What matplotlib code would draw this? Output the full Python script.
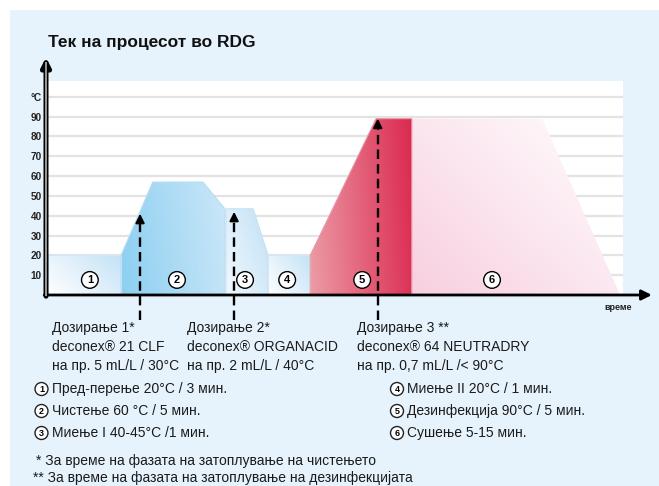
import matplotlib
matplotlib.use("Agg")
import matplotlib.pyplot as plt
import numpy as np
from matplotlib.patches import Polygon, Rectangle
from matplotlib.colors import to_rgb

plt.rcParams['font.family'] = ['Liberation Sans', 'DejaVu Sans']

W, H = 659, 486

# ---- data ----
title = "Тек на процесот во RDG"
ytick_vals = [10, 20, 30, 40, 50, 60, 70, 80, 90, 100]
ytick_labels = ["10", "20", "30", "40", "50", "60", "70", "80", "90", "°C"]
x_label = "време"

p1_t = [0.3, 0.3, 13.0, 13.0];               p1_T = [0, 20, 20, 0]
p2_t = [13.0, 13.0, 18.5, 27.2, 31.0, 31.0]; p2_T = [0, 20, 57, 57, 43.5, 0]
p3_t = [31.2, 31.2, 35.9, 38.5, 38.5];       p3_T = [0, 43.5, 43.5, 20, 0]
p4_t = [38.5, 38.5, 45.8, 45.8];             p4_T = [0, 20, 20, 0]
p5_t = [45.8, 45.8, 57.2, 63.4, 63.4];       p5_T = [0, 20, 89, 89, 0]
p6_t = [63.4, 63.4, 86.0, 99.5];             p6_T = [0, 89, 89, 0]

label_t = [7.6, 22.7, 34.5, 41.8, 54.8, 77.3]
label_T = [7.6, 7.6, 7.6, 7.6, 7.6, 7.6]

dose_t = [16.3, 32.6, 57.5]
dose_T = [41, 42, 89]
dose_texts = [
    "Дозирање 1*\ndeconex® 21 CLF\nна пр. 5 mL/L / 30°C",
    "Дозирање 2*\ndeconex® ORGANACID\nна пр. 2 mL/L / 40°C",
    "Дозирање 3 **\ndeconex® 64 NEUTRADRY\nна пр. 0,7 mL/L /< 90°C",
]
legend_left = ["Пред-перење 20°C / 3 мин.", "Чистење 60 °C / 5 мин.", "Миење I 40-45°C /1 мин."]
legend_right = ["Миење II 20°C / 1 мин.", "Дезинфекција 90°C / 5 мин.", "Сушење 5-15 мин."]
footnotes = ["* За време на фазата на затоплување на чистењето",
             "** За време на фазата на затоплување на дезинфекцијата"]

# ---- figure ----
fig = plt.figure(figsize=(W / 100, H / 100), dpi=100)
fig.patch.set_facecolor('white')

def fx(x): return x / W
def fy(y): return 1 - y / H

fig.patches.append(Rectangle((fx(10), 0), 1 - fx(10), fy(10), transform=fig.transFigure,
                             facecolor='#E7F3FC', edgecolor='none', zorder=-5))

ax = fig.add_axes([fx(46), fy(295), (623 - 46) / W, (295 - 81) / H])
ax.set_zorder(2)
ax.set_facecolor('white')
for s in ax.spines.values():
    s.set_visible(False)

XMAX, YMAX = 100, 108

for v in ytick_vals:
    ax.axhline(v, color='#E3E3E3', lw=1.6, zorder=1)


def grad_fill(ts, Ts, c0, c1, u, v, edge=None):
    xmin, xmax = min(ts), max(ts)
    ymin, ymax = min(Ts), max(Ts)
    n = 200
    gx, gy = np.meshgrid(np.linspace(0, 1, n), np.linspace(0, 1, n))
    g = (u * gx + v * gy) / (abs(u) + abs(v))
    g = g - g.min()
    g = g / g.max()
    a = np.array(to_rgb(c0)); b = np.array(to_rgb(c1))
    img = a[None, None, :] * (1 - g[..., None]) + b[None, None, :] * g[..., None]
    poly = Polygon(np.column_stack([ts, Ts]), closed=True, facecolor='none',
                   edgecolor=edge if edge else 'none', lw=0.8, zorder=3)
    ax.add_patch(poly)
    im = ax.imshow(img, extent=(xmin, xmax, ymin, ymax), origin='lower',
                   aspect='auto', zorder=2, interpolation='bilinear')
    im.set_clip_path(poly)


grad_fill(p1_t, p1_T, '#FFFFFF', '#C3E2F6', 1, 0.6, '#D2E8F6')
grad_fill(p2_t, p2_T, '#8CCFF1', '#CBE7F8', 1, 0.15, '#B9DCF2')
grad_fill(p3_t, p3_T, '#F2F9FE', '#C0E0F5', 1, 0.7, '#C6E2F4')
grad_fill(p4_t, p4_T, '#FFFFFF', '#C3E2F6', 1, 0.6, '#D2E8F6')
grad_fill(p5_t, p5_T, '#EC9CA6', '#DB2950', 1, 0.1, '#E59AA8')
grad_fill(p6_t, p6_T, '#F8CFE0', '#FFFFFF', 1, 0.9, None)

# circled labels in chart
for i, (t, T) in enumerate(zip(label_t, label_T)):
    ax.text(t, T, str(i + 1), ha='center', va='center', fontsize=8, fontweight='bold',
            zorder=6, bbox=dict(boxstyle='circle,pad=0.3', facecolor='white',
                                edgecolor='black', lw=1.0))

# dosing arrows
for t, T in zip(dose_t, dose_T):
    ax.plot([t, t], [-12.6, T - 3], color='black', lw=1.7, ls=(0, (4, 2.2)),
            clip_on=False, zorder=7)
    ax.annotate('', xy=(t, T), xytext=(t, T - 4),
                arrowprops=dict(arrowstyle='-|>', color='black', lw=1.5,
                                mutation_scale=13, shrinkA=0, shrinkB=0),
                annotation_clip=False, zorder=8)

# axes arrows
ax.annotate('', xy=(105, 0), xytext=(-0.3, 0),
            arrowprops=dict(arrowstyle='-|>', color='black', lw=2.0,
                            mutation_scale=15, shrinkA=0, shrinkB=0),
            annotation_clip=False, zorder=9)
ax.annotate('', xy=(0, 120), xytext=(0, -0.6),
            arrowprops=dict(arrowstyle='-|>', color='black', lw=3.6,
                            mutation_scale=13, shrinkA=0, shrinkB=0),
            annotation_clip=False, zorder=9)
ax.plot([0, 0], [0, 117], color='#9A9A9A', lw=1.4, clip_on=False, zorder=10)

ax.set_xlim(0, XMAX)
ax.set_ylim(0, YMAX)
ax.set_xticks([])
ax.set_yticks(ytick_vals)
ax.set_yticklabels(ytick_labels, fontsize=7.2, fontweight='bold', color='#222222')
ax.tick_params(axis='y', length=0, pad=3)

# texts
fig.text(fx(48), fy(42), title, fontsize=12.5, fontweight='bold', ha='left', va='center',
         color='#111111')
fig.text(fx(632), fy(308), x_label, fontsize=6.5, fontweight='bold', ha='right',
         va='center', color='#222222')

dose_x = [52, 187, 357]
for x, s in zip(dose_x, dose_texts):
    fig.text(fx(x), fy(321), s, fontsize=10, ha='left', va='top', color='#1a1a1a',
             linespacing=1.45)

rows_y = [389, 411, 433]
for k, (y, s) in enumerate(zip(rows_y, legend_left)):
    fig.text(fx(41.5), fy(y), str(k + 1), fontsize=6.5, fontweight='bold', ha='center', va='center',
             bbox=dict(boxstyle='circle,pad=0.22', facecolor='white', edgecolor='#222222', lw=1.0))
    fig.text(fx(52), fy(y), s, fontsize=10, ha='left', va='center', color='#1a1a1a')
for k, (y, s) in enumerate(zip(rows_y, legend_right)):
    fig.text(fx(397), fy(y), str(k + 4), fontsize=6.5, fontweight='bold', ha='center', va='center',
             bbox=dict(boxstyle='circle,pad=0.22', facecolor='white', edgecolor='#222222', lw=1.0))
    fig.text(fx(407), fy(y), s, fontsize=10, ha='left', va='center', color='#1a1a1a')

fig.text(fx(36), fy(461), footnotes[0], fontsize=10, ha='left', va='center', color='#1a1a1a')
fig.text(fx(33), fy(478), footnotes[1], fontsize=10, ha='left', va='center', color='#1a1a1a')

fig.savefig('out.png', dpi=100)
